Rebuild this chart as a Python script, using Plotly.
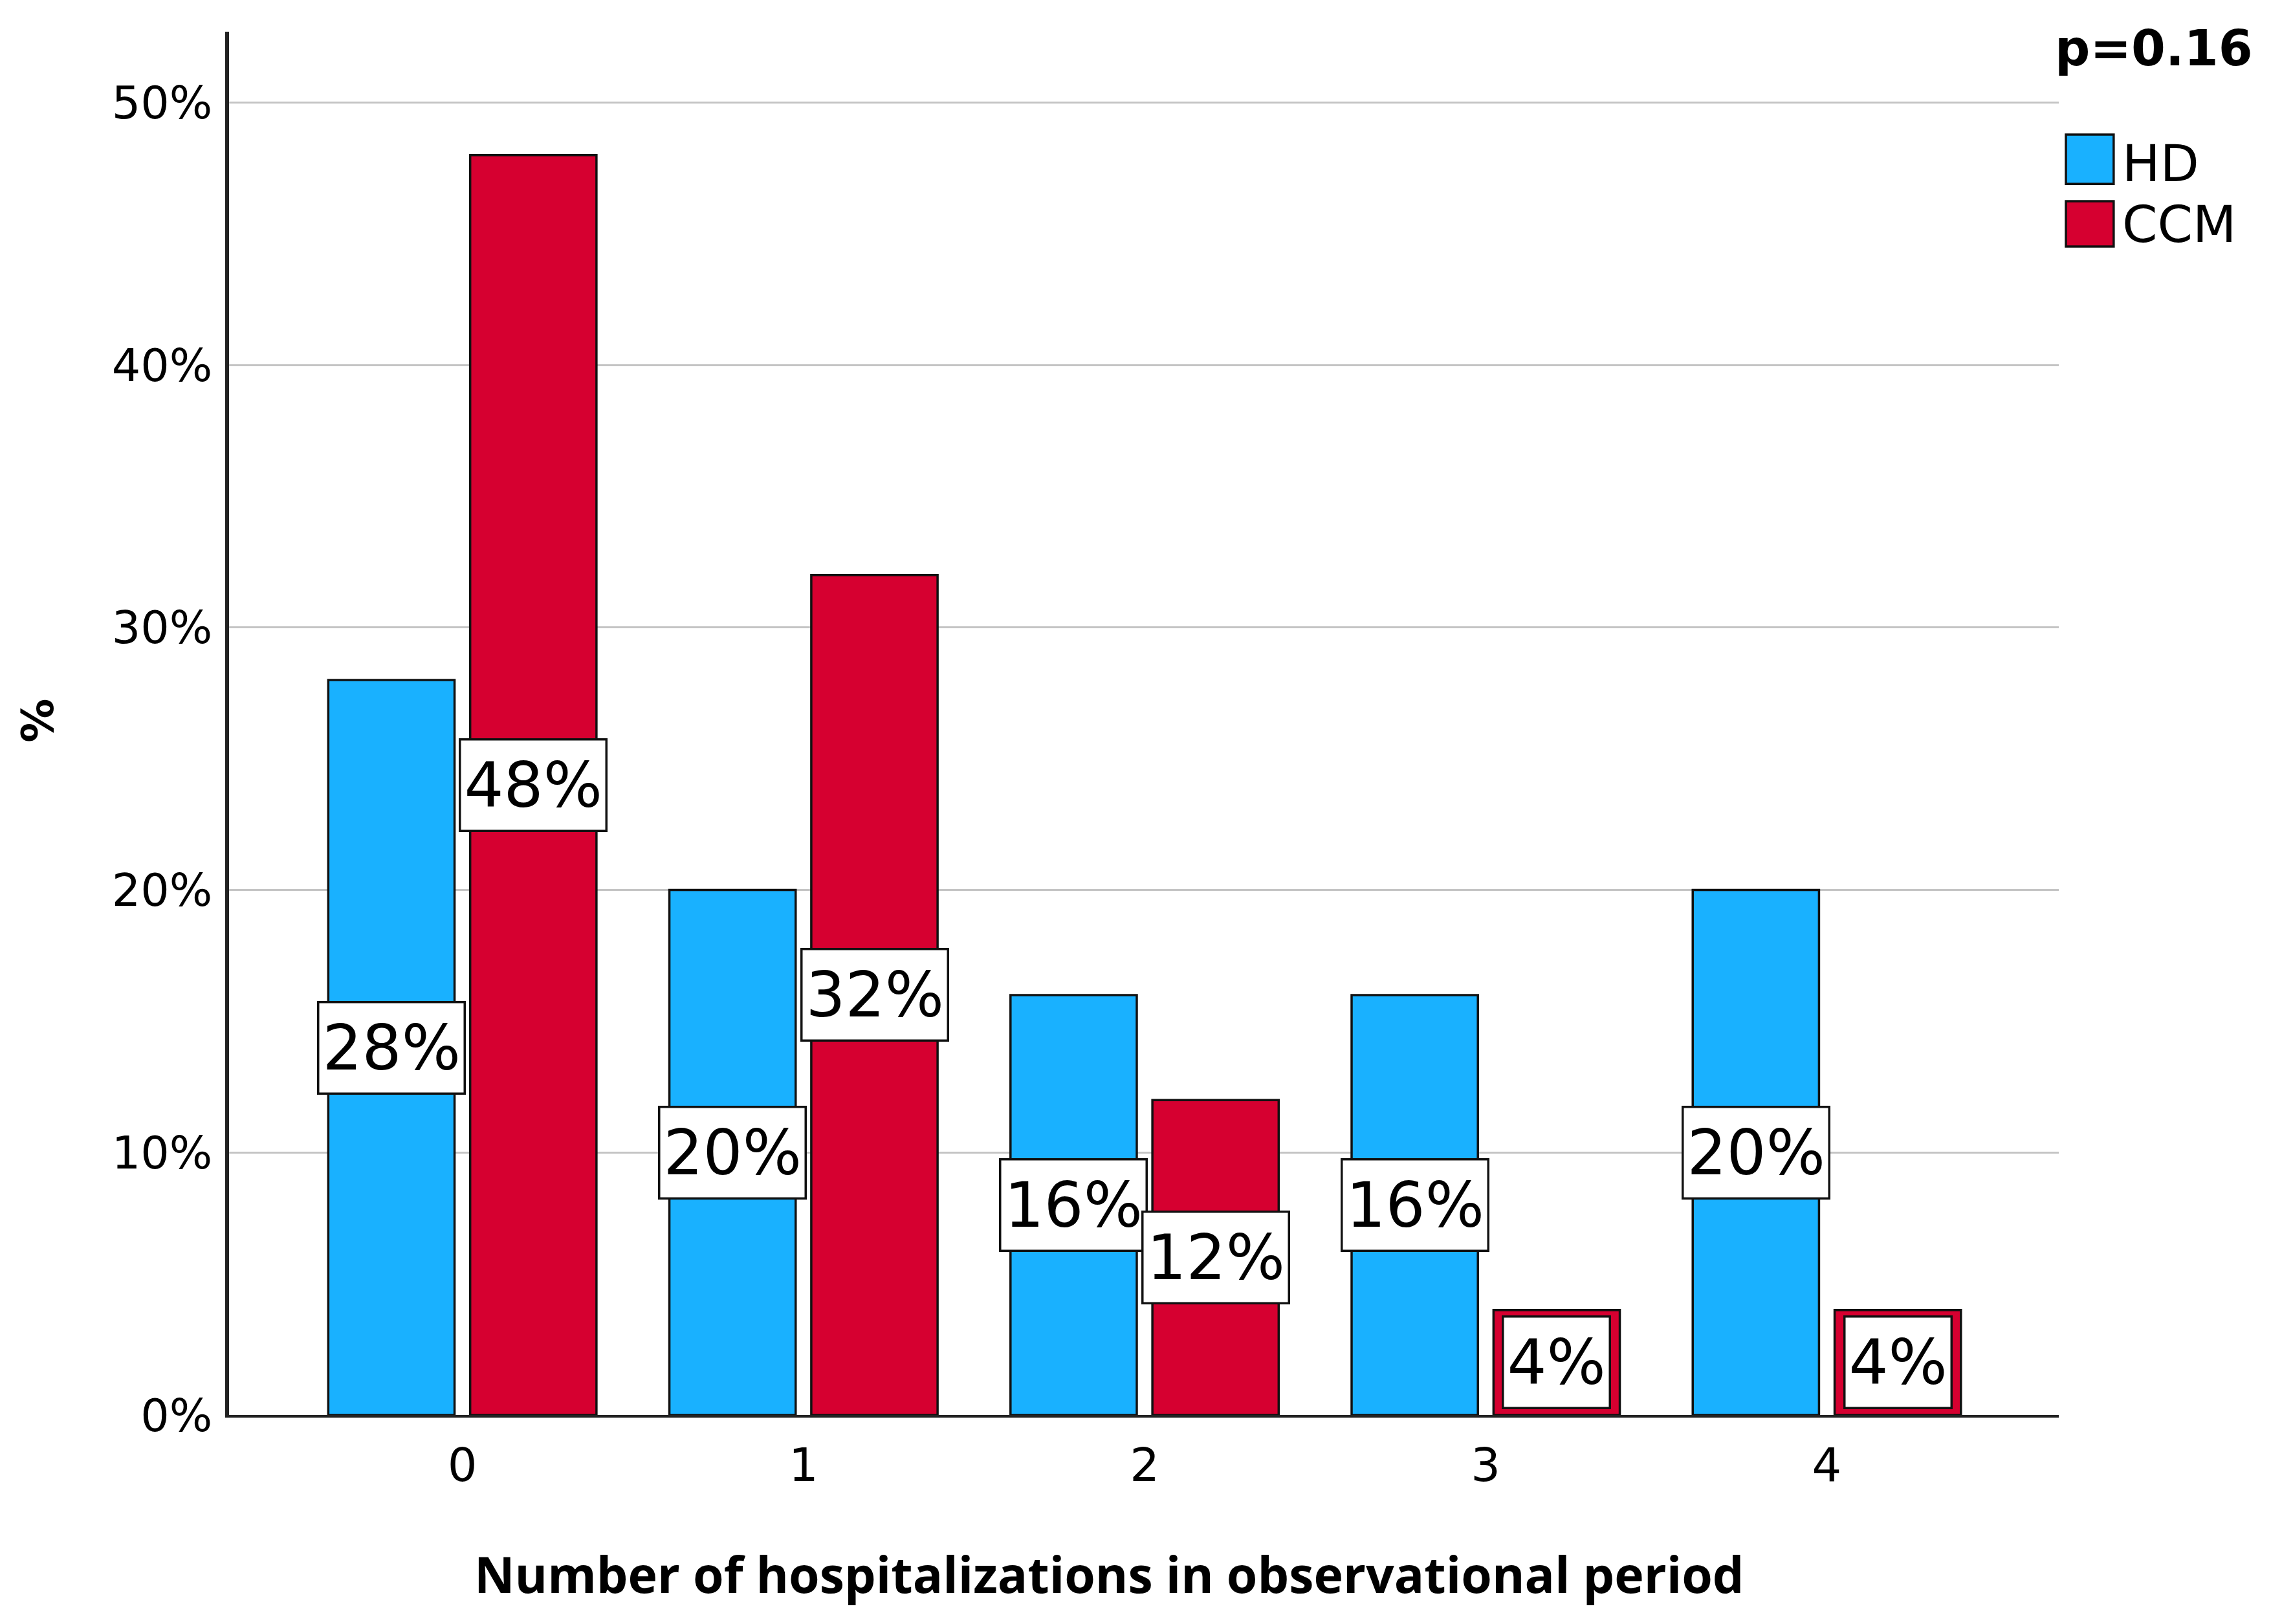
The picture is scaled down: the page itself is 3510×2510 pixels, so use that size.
import plotly.graph_objects as go

categories = [0, 1, 2, 3, 4]
tick_labels = ["0", "1", "2", "3", "4"]
hd_values = [28, 20, 16, 16, 20]
ccm_values = [48, 32, 12, 4, 4]
y_ticks = [0, 10, 20, 30, 40, 50]
y_tick_labels = ["0%", "10%", "20%", "30%", "40%", "50%"]
series_names = ["HD", "CCM"]
p_text = "p=0.16"
x_title = "Number of hospitalizations in observational period"
y_title = "%"

HD_COLOR = "#19b1ff"
CCM_COLOR = "#d60030"
BARGAP = 0.168
BARGROUPGAP = 0.11
half_slot = (1 - BARGAP) / 4

W, H = 3510, 2510
L, R, T, B = 346, 336, 41, 331

fig = go.Figure()
fig.add_trace(go.Bar(x=categories, y=hd_values, name=series_names[0],
                     marker=dict(color=HD_COLOR, line=dict(color="#111111", width=3.5)),
                     showlegend=False))
fig.add_trace(go.Bar(x=categories, y=ccm_values, name=series_names[1],
                     marker=dict(color=CCM_COLOR, line=dict(color="#111111", width=3.5)),
                     showlegend=False))

annotations = []
for vals, sign in ((hd_values, -1), (ccm_values, 1)):
    for c, v in zip(categories, vals):
        annotations.append(dict(
            x=c + sign * half_slot, y=v / 2, xref="x", yref="y",
            text=f"{v}%", showarrow=False,
            font=dict(family="DejaVu Sans", size=96, color="black"),
            height=128, valign="middle",
            bgcolor="white", bordercolor="#111111", borderwidth=3.5, borderpad=5,
            xanchor="center", yanchor="middle"))

# titles and legend text
annotations.append(dict(x=0.481, y=-0.115, xref="paper", yref="paper", text=x_title,
                        showarrow=False, xanchor="center", yanchor="middle",
                        font=dict(family="Open Sans", size=77, color="black", weight="bold")))
annotations.append(dict(x=-0.1043, y=0.502, xref="paper", yref="paper", text=y_title,
                        showarrow=False, xanchor="center", yanchor="middle", textangle=-90,
                        font=dict(family="DejaVu Sans", size=68, color="black", weight="bold")))
annotations.append(dict(x=1.1068, y=0.988, xref="paper", yref="paper", text=p_text,
                        showarrow=False, xanchor="right", yanchor="middle",
                        font=dict(family="DejaVu Sans", size=76, color="black", weight="bold")))

legend_rows = [(series_names[0], HD_COLOR, 0.890, 0.9256, 0.9046),
               (series_names[1], CCM_COLOR, 0.8447, 0.8775, 0.8606)]
shapes = []
for name, col, y0, y1, ty in legend_rows:
    shapes.append(dict(type="rect", xref="paper", yref="paper", x0=1.0039, x1=1.030,
                       y0=y0, y1=y1, fillcolor=col, line=dict(color="#111111", width=3.5)))
    annotations.append(dict(x=1.0340, y=ty, xref="paper", yref="paper", text=name,
                            showarrow=False, xanchor="left", yanchor="middle",
                            font=dict(family="DejaVu Sans", size=78, color="black")))

fig.update_layout(
    width=W, height=H,
    margin=dict(l=L, r=R, t=T, b=B, pad=0),
    paper_bgcolor="white", plot_bgcolor="white",
    barmode="group", bargap=BARGAP, bargroupgap=BARGROUPGAP,
    annotations=annotations, shapes=shapes,
    showlegend=False,
    font=dict(family="DejaVu Sans", color="black"),
)
fig.update_xaxes(range=[-0.684, 4.68], tickvals=categories, ticktext=tick_labels,
                 showgrid=False, zeroline=False, showline=True, linecolor="#222222",
                 linewidth=3.5, ticks="", ticklabelstandoff=12,
                 tickfont=dict(family="DejaVu Sans", size=72, color="black"))
fig.update_yaxes(range=[0, 52.7], tickvals=y_ticks, ticktext=y_tick_labels,
                 showgrid=True, gridcolor="#c4c4c4", gridwidth=3, zeroline=False,
                 showline=True, linecolor="#222222", linewidth=5.5, ticks="",
                 ticklabelstandoff=6,
                 tickfont=dict(family="DejaVu Sans", size=70, color="black"))

fig.write_html("out.html")
